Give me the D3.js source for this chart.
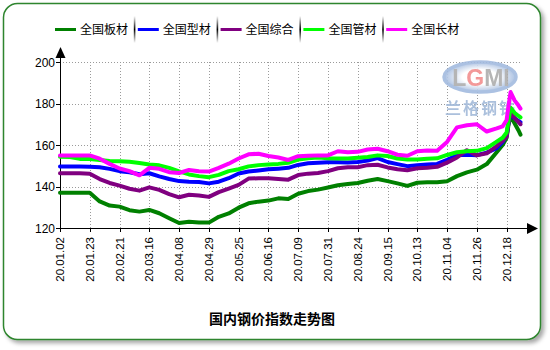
<!DOCTYPE html>
<html>
<head>
<meta charset="utf-8">
<script src="https://cdn.jsdelivr.net/npm/d3@7"></script>
<style>
  body { margin: 0; background: #fff; }
  svg { display: block; }
</style>
</head>
<body>
<svg id="chart" width="550" height="350"></svg>
<script>
// Trading-day index of each sample (first trading day of 2020 = 0)
const tradingDay = [0,5,10,15,20,25,30,35,40,45,50,55,60,65,70,75,80,85,90,95,100,105,110,115,120,125,130,135,140,145,150,155,160,165,170,175,180,185,190,195,200,205,210,215,220,223,225,226,227,229,231,232];

// Price index series
const plate   = [137,137,137,137,132.8,130.8,130.3,128.6,127.9,128.7,127.1,124.7,122.4,123,122.7,122.6,125.4,127,129.8,131.9,132.7,133.2,134.3,134,136.5,137.8,138.5,139.5,140.6,141.2,141.7,142.8,143.6,142.6,141.5,140.3,141.8,142,142,142.5,145,146.8,148.1,150.8,156.5,160,163.5,170,174,170.5,167,165];
const section = [149.6,149.6,149.6,149.5,149.3,148.5,147.4,146.9,145.9,146.4,144.9,143.6,142.6,142.3,142.2,141.5,142.3,144,146.3,147.2,147.7,148.3,148.6,149,150.4,151.2,151.5,151.7,151.7,151.6,151.8,152.5,153.7,151.8,150.8,149.8,150.3,150.6,150.9,152.8,155,155.3,155.1,156.3,158.5,161.5,164.5,171,175,173,171.5,171];
const composite = [146.4,146.4,146.4,146.2,143.6,141.7,140.4,138.9,138,139.6,138.4,136.3,134.8,136,135.7,135,137.3,139,140.8,143.8,144,144,143.6,143.3,145.5,146.2,146.5,147.4,148.8,149.3,149.3,150.3,150.5,149.2,148.3,147.8,148.8,149,149.5,151.5,154,157.5,155,156,159.5,162,164,171,176,173,171,170];
const pipe    = [154.3,154.2,153.3,153.2,152.8,152.3,152.2,151.9,151.3,150.6,150.2,149,147.3,145.8,145,144.5,145.6,147.4,148.3,149.7,150.3,150.6,150.9,151.4,153,153.6,154,153.6,153.5,153.5,153.8,154.2,155,154.7,153.5,153,153,153.4,153.6,155.2,156.5,157,157.2,158.5,161.6,163.5,166,172,178,175.5,174,173.3];
const longSteel = [155,155,155,155,153.4,150.9,148.7,147.4,145.4,149,148.5,146.9,146.5,148,147.4,147.2,149,151,153.5,155.5,155.8,154.7,154,152.8,154.6,154.8,155,155,157,156.5,156.7,157.8,158.2,157,155.3,154.8,157,157.4,157.2,161.5,168.5,169.5,170,166.5,168,169,172,179,185.5,181.5,179,177.5];

const seriesNames  = ["全国板材","全国型材","全国综合","全国管材","全国长材"];
const seriesColors = ["#008000","#0000ff","#800080","#00ff00","#ff00ff"];
const seriesValues = [plate, section, composite, pipe, longSteel];

const tickDays   = [0,15,30,45,60,75,90,105,120,135,150,165,180,195,210,225];
const tickLabels = ["20.01.02","20.01.23","20.02.21","20.03.16","20.04.08","20.04.29","20.05.25","20.06.16","20.07.09","20.07.31","20.08.24","20.09.15","20.10.13","20.11.04","20.11.26","20.12.18"];
const yTicks = [120,140,160,180,200];

const title = "国内钢价指数走势图";

const svg = d3.select("#chart");
const defs = svg.append("defs");

// Panel shadow and frame
const shadow = defs.append("filter").attr("id","panelShadow")
  .attr("x","-5%").attr("y","-5%").attr("width","115%").attr("height","115%");
shadow.append("feDropShadow").attr("dx",3).attr("dy",3).attr("stdDeviation",2.2)
  .attr("flood-color","#000").attr("flood-opacity",0.35);

svg.append("rect")
  .attr("x",3.5).attr("y",3.5).attr("width",537).attr("height",336)
  .attr("rx",14).attr("ry",14)
  .attr("fill","#fff").attr("stroke","#2f852f").attr("stroke-width",1.5)
  .attr("filter","url(#panelShadow)");

// Scales
const x = d3.scaleLinear().domain([0, 232]).range([60, 520.5]);
const y = d3.scaleLinear().domain([120, 200]).range([228, 62]);

// Grid
const grid = svg.append("g").attr("stroke","#9a9a9a").attr("stroke-width",1)
  .attr("stroke-dasharray","1,2").attr("shape-rendering","crispEdges");
grid.selectAll("line.h").data(yTicks.filter(v => v > 120)).join("line")
  .attr("class","h")
  .attr("x1", x(0)).attr("x2", x(232))
  .attr("y1", d => Math.round(y(d)) + 0.5).attr("y2", d => Math.round(y(d)) + 0.5);
grid.selectAll("line.v").data(tickDays.filter(d => d > 0)).join("line")
  .attr("class","v")
  .attr("x1", d => Math.round(x(d)) + 0.5).attr("x2", d => Math.round(x(d)) + 0.5)
  .attr("y1", y(200)).attr("y2", y(120));

// Watermark logo (behind the series)
const logo = svg.append("g").attr("opacity",0.9);
const logoGrad = defs.append("radialGradient").attr("id","logoFill");
logoGrad.append("stop").attr("offset","50%").attr("stop-color","#ffffff");
logoGrad.append("stop").attr("offset","100%").attr("stop-color","#a3bbdf");
logo.append("ellipse").attr("cx",480).attr("cy",77).attr("rx",36).attr("ry",15)
  .attr("fill","url(#logoFill)").attr("stroke","#a3bbdf").attr("stroke-width",3.5);
const logoText = logo.append("text").attr("x",481).attr("y",86)
  .attr("text-anchor","middle").attr("font-family","Liberation Sans, Arial, sans-serif")
  .attr("font-size",23).attr("font-weight","bold");
logoText.append("tspan").attr("fill","#adadad").text("L");
logoText.append("tspan").attr("fill","#f28f8f").text("G");
logoText.append("tspan").attr("fill","#adadad").text("MI");
logo.append("text").attr("x",481).attr("y",114)
  .attr("text-anchor","middle").attr("font-family","Noto Sans CJK SC, sans-serif")
  .attr("font-size",16).attr("font-weight","bold").attr("letter-spacing",2).attr("fill","#a3bad9")
  .text("兰格钢铁");

// Axes
const axisG = svg.append("g").attr("stroke","#000").attr("stroke-width",1).attr("shape-rendering","crispEdges");
axisG.append("line").attr("x1",60.5).attr("x2",60.5).attr("y1",y(120)).attr("y2",56);
axisG.append("line").attr("x1",60).attr("x2",529).attr("y1",228.5).attr("y2",228.5);
svg.append("path").attr("d","M55.5,58 L65.5,58 L60.5,47 Z").attr("fill","#000");
svg.append("path").attr("d","M527,223 L527,234 L538,228.5 Z").attr("fill","#000");

axisG.selectAll("line.xt").data(tickDays).join("line").attr("class","xt")
  .attr("x1", d => Math.round(x(d)) + 0.5).attr("x2", d => Math.round(x(d)) + 0.5)
  .attr("y1",229).attr("y2",232);
axisG.selectAll("line.yt").data(yTicks).join("line").attr("class","yt")
  .attr("x1",56).attr("x2",60)
  .attr("y1", d => Math.round(y(d)) + 0.5).attr("y2", d => Math.round(y(d)) + 0.5);

svg.append("g").selectAll("text").data(yTicks).join("text")
  .attr("x",55).attr("y", d => y(d) + 4.5)
  .attr("text-anchor","end").attr("font-family","Liberation Sans, Arial, sans-serif")
  .attr("font-size",12).attr("fill","#000").text(d => d);

svg.append("g").selectAll("text").data(tickDays).join("text")
  .attr("transform", (d) => `translate(${x(d) + 4},237) rotate(-90)`)
  .attr("text-anchor","end").attr("font-family","Liberation Sans, Arial, sans-serif")
  .attr("font-size",11.5).attr("fill","#000")
  .text((d, i) => tickLabels[i]);

// Series lines
const line = d3.line().x((d) => x(d[0])).y((d) => y(d[1]));
seriesValues.forEach((vals, s) => {
  svg.append("path")
    .datum(tradingDay.map((t, i) => [t, vals[i]]))
    .attr("d", line)
    .attr("fill","none")
    .attr("stroke", seriesColors[s])
    .attr("stroke-width",4)
    .attr("stroke-linejoin","round")
    .attr("stroke-linecap","round");
});

// Legend
const sepGrad = defs.append("linearGradient").attr("id","sepGrad")
  .attr("x1",0).attr("x2",0).attr("y1",0).attr("y2",1);
sepGrad.append("stop").attr("offset","0%").attr("stop-color","#000").attr("stop-opacity",0);
sepGrad.append("stop").attr("offset","50%").attr("stop-color","#000").attr("stop-opacity",1);
sepGrad.append("stop").attr("offset","100%").attr("stop-color","#000").attr("stop-opacity",0);

const legend = svg.append("g");
seriesNames.forEach((name, i) => {
  const lx = 55 + i * 82.8;
  if (i > 0) {
    legend.append("rect").attr("x", lx - 4).attr("y",16).attr("width",1.6).attr("height",27)
      .attr("fill","url(#sepGrad)");
  }
  legend.append("line").attr("x1",lx).attr("x2",lx + 21).attr("y1",29.5).attr("y2",29.5)
    .attr("stroke",seriesColors[i]).attr("stroke-width",3);
  legend.append("text").attr("x",lx + 25).attr("y",34)
    .attr("font-family","Noto Sans CJK SC, sans-serif").attr("font-size",12)
    .attr("fill","#000").text(name);
});

// Title
svg.append("text").attr("x",272).attr("y",324).attr("text-anchor","middle")
  .attr("font-family","Noto Sans CJK SC, sans-serif").attr("font-size",14)
  .attr("font-weight","bold").attr("fill","#000").text(title);
</script>
</body>
</html>
